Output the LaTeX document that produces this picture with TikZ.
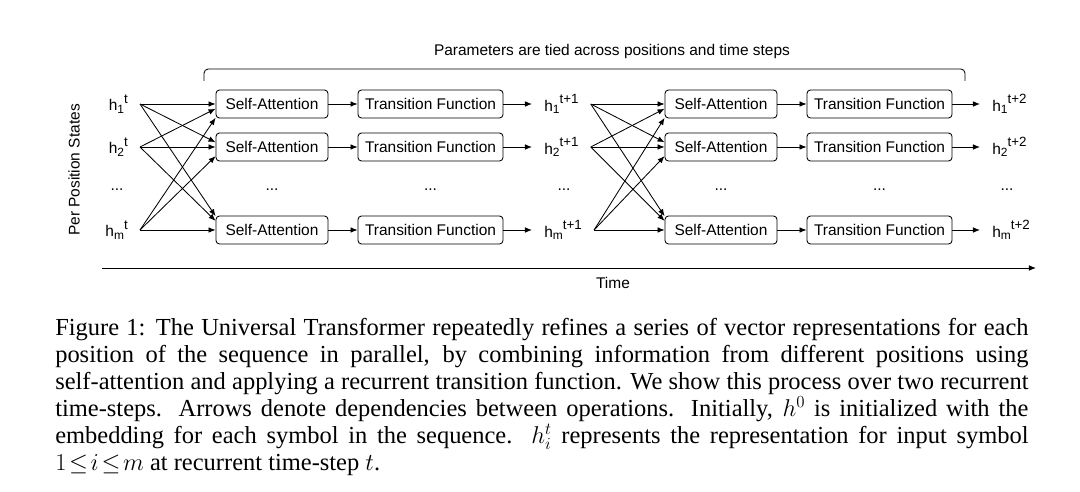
\documentclass[tikz,border=0pt]{standalone}
\usepackage{fontspec}
\setmainfont{Liberation Serif}
\setsansfont{Liberation Sans}
\usetikzlibrary{arrows.meta,positioning,calc}
\newcommand{\hvec}[2]{h\raisebox{-2pt}{\fontsize{8.5}{9}\selectfont#1}\raisebox{5.5pt}{\fontsize{9.5}{10}\selectfont#2}}

\begin{document}
\begin{tikzpicture}[x=0.025cm,y=-0.025cm,
  diag/.style={font=\sffamily\fontsize{11}{13}\selectfont},
  opbox/.style={diag,draw,rounded corners=2.5pt,line width=0.6pt,minimum height=0.7cm,inner sep=0pt},
  sabox/.style={opbox,minimum width=2.8cm},
  tfbox/.style={opbox,minimum width=3.625cm},
  hstate/.style={diag,inner xsep=0.3cm,inner ysep=1pt},
  flow/.style={-{Latex[length=5pt,width=4pt]},line width=0.6pt}]
  \useasboundingbox (0,0) rectangle (1080,492);

  % states at time t
  \node[hstate,anchor=east] (a1) at (140,104) {\hvec{1}{t}};
  \node[hstate,anchor=east] (a2) at (140,147) {\hvec{2}{t}};
  \node[hstate,anchor=east] (am) at (140,230) {\hvec{m}{t}};
  \node[diag] (adots) at (117,190) {...};

  % first step
  \foreach \r/\y in {1/104,2/147,m/230} {
    \node[sabox] (sa\r) at (272,\y) {Self-Attention};
    \node[tfbox] (tf\r) at (430.5,\y) {Transition Function};
    \node[hstate,anchor=west] (b\r) at (532,\y) {\hvec{\r}{t+1}};
    \draw[flow] (sa\r) -- (tf\r);
    \draw[flow] (tf\r) -- (b\r);
  }
  \node[diag] (sadots) at (272,190) {...};
  \node[diag] (tfdots) at (430.5,190) {...};
  \node[diag] (bdots) at (564,190) {...};

  % second step
  \foreach \r/\y in {1/104,2/147,m/230} {
    \node[sabox] (sb\r) at (721,\y) {Self-Attention};
    \node[tfbox] (tg\r) at (879.5,\y) {Transition Function};
    \node[hstate,anchor=west] (c\r) at (980,\y) {\hvec{\r}{t+2}};
    \draw[flow] (sb\r) -- (tg\r);
    \draw[flow] (tg\r) -- (c\r);
  }
  \node[diag] (sbdots) at (721,190) {...};
  \node[diag] (tgdots) at (879.5,190) {...};
  \node[diag] (cdots) at (1007,190) {...};

  % dependencies between positions
  \foreach \i/\yi in {1/104,2/147,m/230}
    \foreach \j/\yj in {1/104,2/147,m/230} {
      \draw[flow] (a\i.east) -- ($(sa\j.west)+(0,{0.11*(\yi-\yj)})$);
      \draw[flow] (b\i.east) -- ($(sb\j.west)+(0,{0.11*(\yi-\yj)})$);
    }

  % tied parameters
  \node[diag] (tied) at (612,52) {Parameters are tied across positions and time steps};
  \draw[line width=0.6pt,rounded corners=3pt] (204,81) -- (204,69) -- (965,69) -- (965,81);

  % axes
  \node[diag,rotate=90] (pos) at (74,170) {Per Position States};
  \coordinate (t0) at (102,268);
  \coordinate (t1) at (1036,268);
  \draw[flow] (t0) -- (t1);
  \node[diag] (time) at (613,283) {Time};

  % caption
  \node[anchor=north west,inner sep=0pt,text width=24.325cm,align=justify,
    font=\rmfamily\fontsize{17.4}{19.2}\selectfont] (caption) at (55,318)
    {\hyphenpenalty=10000\tolerance=10000
     Figure 1: The Universal Transformer repeatedly refines a series of vector representations for each\linebreak
     position of the sequence in parallel, by combining information from different positions using\linebreak
     self-attention and applying a recurrent transition function. We show this process over two recurrent\linebreak
     time-steps. Arrows denote dependencies between operations. Initially, $h^0$ is initialized with the\linebreak
     embedding for each symbol in the sequence. $h_i^t$ represents the representation for input symbol\linebreak
     $1\!\leq\! i\!\leq\! m$ at recurrent time-step $t$.};
\end{tikzpicture}
\end{document}
